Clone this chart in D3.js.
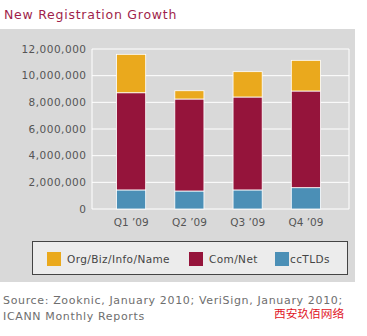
<!DOCTYPE html>
<html>
<head>
<meta charset="utf-8">
<script src="https://cdn.jsdelivr.net/npm/d3@7"></script>
<style>
  body { margin: 0; background: #fff; }
  svg { display: block; font-family: "DejaVu Sans", sans-serif; }
</style>
</head>
<body>
<div id="chart"></div>
<script>
// data
var quarters = ['Q1 \u201909', 'Q2 \u201909', 'Q3 \u201909', 'Q4 \u201909'];
var ccTLDs   = [1430000, 1350000, 1430000, 1600000];
var comNet   = [7290000, 6900000, 6970000, 7250000];
var orgBiz   = [2880000,  620000, 1900000, 2300000];
var seriesNames = ['Org/Biz/Info/Name', 'Com/Net', 'ccTLDs'];
var yTicks = [0, 2000000, 4000000, 6000000, 8000000, 10000000, 12000000];

var colors = { 'ccTLDs': '#4b8fb6', 'Com/Net': '#95143b', 'Org/Biz/Info/Name': '#eaa91d' };

var W = 367, H = 336;
var plot = { left: 92, right: 349, top: 49, bottom: 209 };

var svg = d3.select('#chart').append('svg')
    .attr('width', W)
    .attr('height', H);

// title
svg.append('text')
    .attr('x', 4).attr('y', 19)
    .attr('fill', '#a01f4b')
    .attr('font-size', 12.5)
    .attr('letter-spacing', 0.75)
    .text('New Registration Growth');

// gray panel
svg.append('rect')
    .attr('x', 0).attr('y', 29)
    .attr('width', 355).attr('height', 253)
    .attr('fill', '#d9d9d9');

var y = d3.scaleLinear().domain([0, 12000000]).range([plot.bottom, plot.top]);
var x = d3.scaleBand().domain(quarters).range([102, 335]).paddingInner(0.5).paddingOuter(0.25);

// grid
svg.append('g').selectAll('line')
    .data(yTicks)
    .join('line')
        .attr('x1', plot.left).attr('x2', plot.right)
        .attr('y1', function (d) { return y(d); })
        .attr('y2', function (d) { return y(d); })
        .attr('stroke', '#fff').attr('stroke-width', 1);

[plot.left, plot.right].forEach(function (px) {
    svg.append('line')
        .attr('x1', px).attr('x2', px)
        .attr('y1', plot.top).attr('y2', plot.bottom)
        .attr('stroke', '#fff');
});

// y labels
var fmt = d3.format(',');
svg.append('g').selectAll('text')
    .data(yTicks)
    .join('text')
        .attr('x', 86.5)
        .attr('y', function (d) { return y(d); })
        .attr('dy', '0.35em')
        .attr('text-anchor', 'end')
        .attr('fill', '#555')
        .attr('font-size', 10.5)
        .attr('letter-spacing', 0.5)
        .text(function (d) { return fmt(d); });

// stacked bars
var rows = quarters.map(function (q, i) {
    return { q: q, 'ccTLDs': ccTLDs[i], 'Com/Net': comNet[i], 'Org/Biz/Info/Name': orgBiz[i] };
});
var stack = d3.stack().keys(['ccTLDs', 'Com/Net', 'Org/Biz/Info/Name']);
var layers = stack(rows);

svg.append('g').selectAll('g')
    .data(layers)
    .join('g')
        .attr('fill', function (d) { return colors[d.key]; })
    .selectAll('rect')
    .data(function (d) { return d; })
    .join('rect')
        .attr('x', function (d) { return x(d.data.q); })
        .attr('y', function (d) { return y(d[1]); })
        .attr('width', x.bandwidth())
        .attr('height', function (d) { return y(d[0]) - y(d[1]); })
        .attr('stroke', '#fff')
        .attr('stroke-width', 0.8);

// x labels
svg.append('g').selectAll('text')
    .data(quarters)
    .join('text')
        .attr('x', function (d) { return x(d) + x.bandwidth() / 2; })
        .attr('y', 222)
        .attr('dy', '0.35em')
        .attr('text-anchor', 'middle')
        .attr('fill', '#555')
        .attr('font-size', 10.5)
        .text(function (d) { return d; });

// legend
svg.append('rect')
    .attr('x', 32.5).attr('y', 241.5)
    .attr('width', 315).attr('height', 33)
    .attr('fill', '#ececec')
    .attr('stroke', '#444');

var legendX = [47, 189, 275];
var lg = svg.append('g').selectAll('g')
    .data(seriesNames)
    .join('g')
        .attr('transform', function (d, i) { return 'translate(' + legendX[i] + ',252)'; });
lg.append('rect')
    .attr('width', 14).attr('height', 14)
    .attr('fill', function (d) { return colors[d]; });
lg.append('text')
    .attr('x', function (d, i) { return i === 2 ? 15 : 20; })
    .attr('y', 7)
    .attr('dy', '0.35em')
    .attr('fill', '#444')
    .attr('font-size', 10.5)
    .attr('letter-spacing', 0.4)
    .text(function (d) { return d; });

// source
var src = svg.append('text')
    .attr('fill', '#6e6e6e')
    .attr('font-size', 11)
    .attr('letter-spacing', 0.65);
src.append('tspan').attr('x', 3).attr('y', 304)
    .text('Source: Zooknic, January 2010; VeriSign, January 2010;');
src.append('tspan').attr('x', 3).attr('y', 320)
    .text('ICANN Monthly Reports');

svg.append('text')
    .attr('x', 274).attr('y', 318)
    .attr('fill', '#e0141e')
    .attr('font-size', 11.7)
    .attr('font-family', '"Noto Sans CJK SC", sans-serif')
    .text('西安玖佰网络');
</script>
</body>
</html>
